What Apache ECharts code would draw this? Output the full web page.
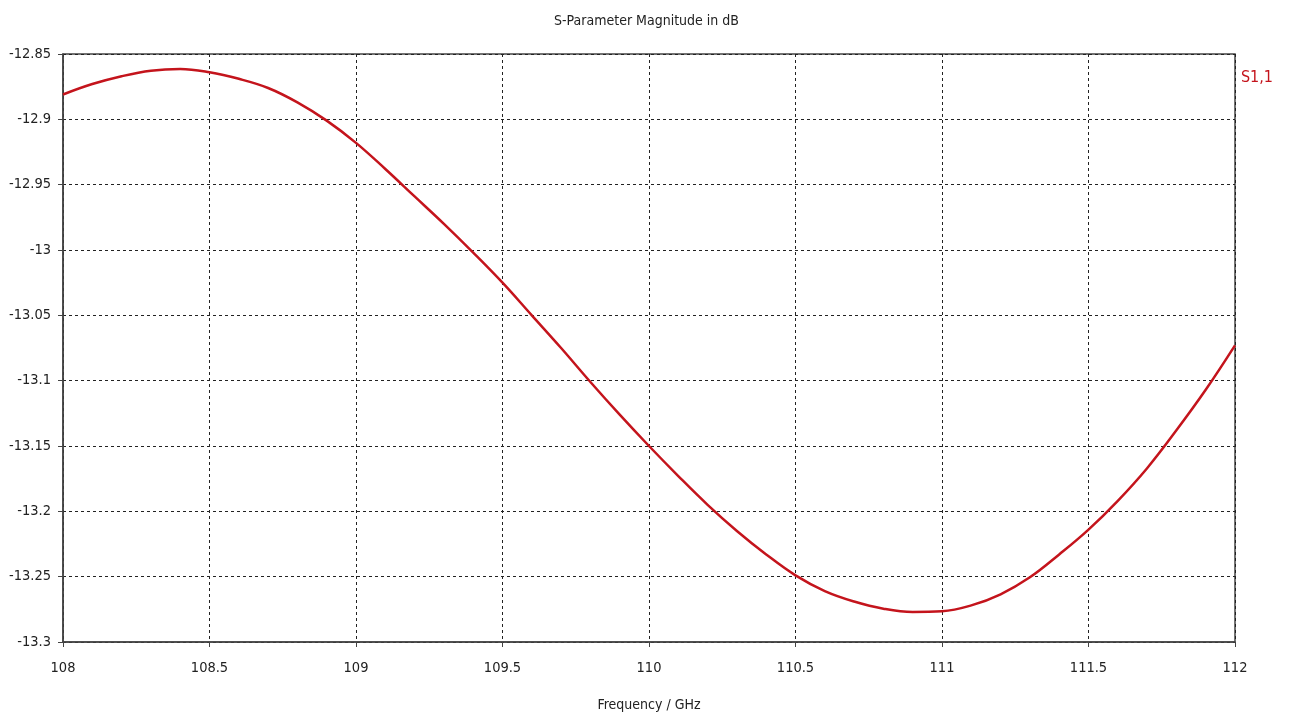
<!DOCTYPE html>
<html>
<head>
<meta charset="utf-8">
<script src="https://cdn.jsdelivr.net/npm/echarts@6/dist/echarts.min.js"></script>
<style>
  html, body { margin: 0; padding: 0; background: #fff; }
  #chart { width: 1293px; height: 721px; }
</style>
</head>
<body>
<div id="chart"></div>
<script>
// Frequency sweep (GHz) and |S11| in dB
const freqGHz = [
  108.0, 108.1, 108.2, 108.3, 108.4, 108.5, 108.6, 108.7, 108.8, 108.9,
  109.0, 109.1, 109.2, 109.3, 109.4, 109.5, 109.6, 109.7, 109.8, 109.9,
  110.0, 110.1, 110.2, 110.3, 110.4, 110.5, 110.6, 110.7, 110.8, 110.9,
  111.0, 111.1, 111.2, 111.3, 111.4, 111.5, 111.6, 111.7, 111.8, 111.9,
  112.0
];
const s11dB = [
  -12.881, -12.873, -12.867, -12.8628, -12.8615, -12.864, -12.869, -12.876, -12.887, -12.901,
  -12.918, -12.938, -12.959, -12.980, -13.002, -13.025, -13.050, -13.075, -13.101, -13.126,
  -13.150, -13.173, -13.195, -13.215, -13.233, -13.249, -13.261, -13.269, -13.2745, -13.277,
  -13.2765, -13.272, -13.2635, -13.2505, -13.233, -13.214, -13.192, -13.167, -13.138, -13.107,
  -13.073
];
const seriesName = 'S1,1';
const xTicks = { min: 108, max: 112, step: 0.5 };
const yTicks = { min: -13.3, max: -12.85, step: 0.05 };

const FONT = '"DejaVu Sans Condensed", "Liberation Sans", sans-serif';
const RED = '#c4141c';

const chart = echarts.init(document.getElementById('chart'), null, { renderer: 'canvas' });

const gridLine = { show: true, lineStyle: { color: '#222', width: 1, type: [3, 3] } };
const axisLine = { show: true, lineStyle: { color: '#444', width: 1.5 } };
const axisTick = { show: true, inside: false, length: 5, lineStyle: { color: '#444', width: 1 } };
const fmt = v => String(+(+v).toFixed(2));

chart.setOption({
  animation: false,
  backgroundColor: '#fff',
  title: {
    text: 'S-Parameter Magnitude in dB',
    left: 'center', top: 9,
    textStyle: { fontFamily: FONT, fontSize: 14, fontWeight: 'normal', color: '#222' }
  },
  legend: {
    data: [seriesName],
    right: 15, top: 65,
    icon: 'none', itemWidth: 0, itemHeight: 0, itemGap: 0,
    textStyle: { fontFamily: FONT, fontSize: 16, color: RED, padding: 0 }
  },
  grid: {
    left: 63, top: 54, right: 58, bottom: 79,
    show: true, borderColor: '#444', borderWidth: 1.5, backgroundColor: 'transparent'
  },
  xAxis: {
    type: 'value',
    min: xTicks.min, max: xTicks.max, interval: xTicks.step,
    name: 'Frequency / GHz',
    nameLocation: 'middle', nameGap: 56,
    nameTextStyle: { fontFamily: FONT, fontSize: 14, color: '#222' },
    axisLine, axisTick,
    axisLabel: { fontFamily: FONT, fontSize: 14.5, color: '#222', margin: 19, formatter: fmt },
    splitLine: gridLine
  },
  yAxis: {
    type: 'value',
    min: yTicks.min, max: yTicks.max, interval: yTicks.step,
    axisLine, axisTick,
    axisLabel: { fontFamily: FONT, fontSize: 14.5, color: '#222', margin: 12, formatter: fmt },
    splitLine: gridLine
  },
  series: [{
    name: seriesName,
    type: 'line',
    data: freqGHz.map((f, i) => [f, s11dB[i]]),
    smooth: 0.4,
    showSymbol: false,
    lineStyle: { color: RED, width: 2.5 },
    itemStyle: { color: RED },
    clip: true
  }]
});
</script>
</body>
</html>
